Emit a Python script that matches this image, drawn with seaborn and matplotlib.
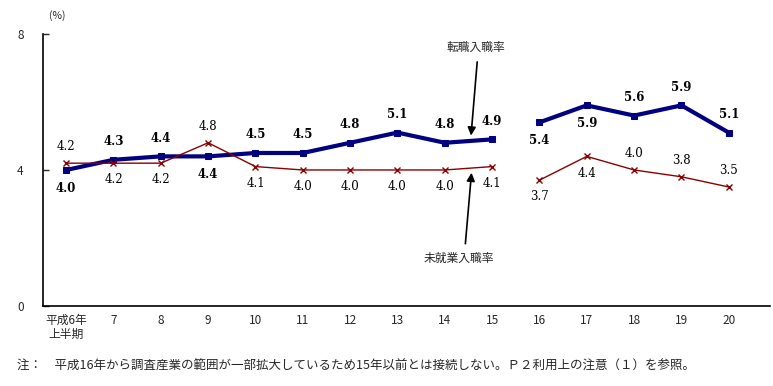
import matplotlib
matplotlib.use("Agg")
import matplotlib.pyplot as plt
import seaborn as sns
import pandas as pd

sns.set_theme(style="white")
plt.rcParams['font.family'] = ['Noto Sans CJK JP', 'DejaVu Sans']

categories = ["平成6年\n上半期", "7", "8", "9", "10", "11", "12", "13", "14", "15",
              "16", "17", "18", "19", "20"]
tenshoku = [4.0, 4.3, 4.4, 4.4, 4.5, 4.5, 4.8, 5.1, 4.8, 4.9, 5.4, 5.9, 5.6, 5.9, 5.1]
mishugyo = [4.2, 4.2, 4.2, 4.8, 4.1, 4.0, 4.0, 4.0, 4.0, 4.1, 3.7, 4.4, 4.0, 3.8, 3.5]
# label placement: 1 above, -1 below
tenshoku_pos = [-1, 1, 1, -1, 1, 1, 1, 1, 1, 1, -1, -1, 1, 1, 1]
mishugyo_pos = [1, -1, -1, 1, -1, -1, -1, -1, -1, -1, -1, -1, 1, 1, 1]
break_index = 10

rows = []
for i, (a, b) in enumerate(zip(tenshoku, mishugyo)):
    seg = 0 if i < break_index else 1
    rows.append(dict(x=i, v=a, series="転職入職率", seg=seg))
    rows.append(dict(x=i, v=b, series="未就業入職率", seg=seg))
df = pd.DataFrame(rows)

fig = plt.figure(figsize=(7.73, 3.86), dpi=100)
ax = fig.add_axes([0.0556, 0.2073, 0.9404, 0.7047])

navy = "#000080"
red = "#8B0000"
for seg in (0, 1):
    d = df[(df.seg == seg) & (df.series == "転職入職率")]
    sns.lineplot(data=d, x="x", y="v", ax=ax, color=navy, linewidth=3,
                 marker="s", markersize=5, markeredgecolor=navy, legend=False)
    d = df[(df.seg == seg) & (df.series == "未就業入職率")]
    sns.lineplot(data=d, x="x", y="v", ax=ax, color=red, linewidth=1,
                 marker="x", markersize=4, markeredgecolor=red, markeredgewidth=1,
                 legend=False)

for i, (v, p) in enumerate(zip(tenshoku, tenshoku_pos)):
    ax.annotate(f"{v:.1f}", (i, v), xytext=(0, 13 * p), textcoords="offset points",
                ha="center", va="center", fontsize=8.5, fontweight="bold",
                family=["DejaVu Serif"], color="black")
for i, (v, p) in enumerate(zip(mishugyo, mishugyo_pos)):
    ax.annotate(f"{v:.1f}", (i, v), xytext=(0, 12 * p), textcoords="offset points",
                ha="center", va="center", fontsize=8.5,
                family=["DejaVu Serif"], color="black")

ax.set_xlim(-0.49, 14.87)
ax.set_ylim(0, 8)
ax.set_yticks([0, 4, 8])
ax.set_yticklabels(["0", "4", "8"], fontsize=8.5)
ax.set_xticks(range(len(categories)))
ax.set_xticklabels(categories, fontsize=8.5, linespacing=1.1)
ax.tick_params(axis="x", length=0, pad=6)
ax.tick_params(axis="y", direction="in", length=4, width=1, pad=14, left=True)
ax.set_xlabel("")
ax.set_ylabel("")
for s in ("top", "right"):
    ax.spines[s].set_visible(False)
for s in ("left", "bottom"):
    ax.spines[s].set_color("black")
    ax.spines[s].set_linewidth(1.2)

# annotations with arrows
ax.annotate("", xy=(8.55, 4.93), xytext=(8.69, 7.26),
            arrowprops=dict(arrowstyle="-|>", color="black", lw=1.2, mutation_scale=12))
ax.text(8.65, 7.62, "転職入職率", ha="center", va="center", fontsize=8.5)
ax.annotate("", xy=(8.57, 4.0), xytext=(8.43, 1.75),
            arrowprops=dict(arrowstyle="-|>", color="black", lw=1.2, mutation_scale=12))
ax.text(8.3, 1.4, "未就業入職率", ha="center", va="center", fontsize=8.5)

fig.text(0.063, 0.96, "(%)", ha="left", va="center", fontsize=7.5)
fig.text(0.022, 0.052, "注：　平成16年から調査産業の範囲が一部拡大しているため15年以前とは接続しない。Ｐ２利用上の注意（１）を参照。",
         ha="left", va="center", fontsize=9)

fig.savefig("out.png", dpi=100)
